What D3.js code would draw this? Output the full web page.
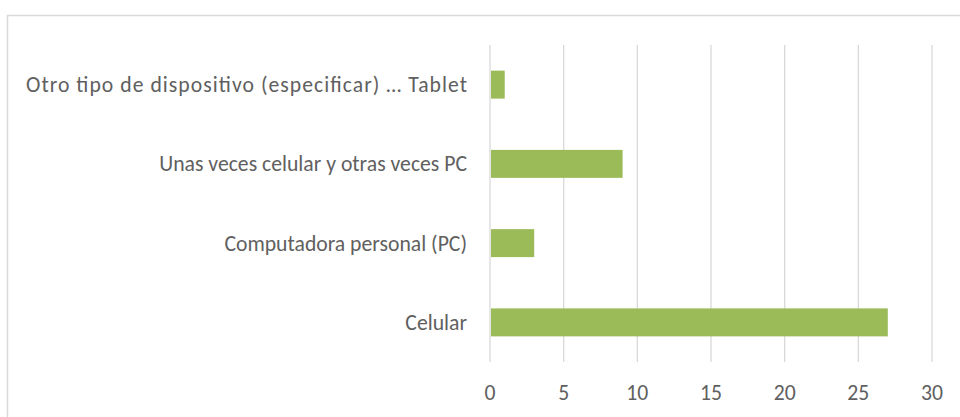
<!DOCTYPE html>
<html>
<head>
<meta charset="utf-8">
<script src="https://d3js.org/d3.v7.min.js"></script>
<style>
  body { margin: 0; background: #fff; }
  text { font-family: Calibri, Carlito, sans-serif; fill: #606060; }
</style>
</head>
<body>
<svg width="960" height="417"></svg>
<script>
// data
var categories = ["Otro tipo de dispositivo (especificar) \u2026 Tablet",
                  "Unas veces celular y otras veces PC",
                  "Computadora personal (PC)",
                  "Celular"];
var values = [1, 9, 3, 27];
var xTicks = [0, 5, 10, 15, 20, 25, 30];

var svg = d3.select("svg");
var plot = {left: 490, right: 932, top: 45, bottom: 362};

// chart frame
svg.append("rect")
    .attr("x", 7.5).attr("y", 15.5)
    .attr("width", 960).attr("height", 420)
    .attr("fill", "none")
    .attr("stroke", "#d9d9d9")
    .attr("stroke-width", 1.5);

var x = d3.scaleLinear().domain([0, 30]).range([plot.left, plot.right]);
var y = d3.scaleBand().domain(categories).range([plot.top, plot.bottom])
    .paddingInner(0.647).paddingOuter(0.3235);

// gridlines
svg.append("g").selectAll("line")
  .data(xTicks)
  .enter().append("line")
    .attr("x1", x).attr("x2", x)
    .attr("y1", plot.top).attr("y2", plot.bottom)
    .attr("stroke", "#d9d9d9")
    .attr("stroke-width", 1.3);

// bars
svg.append("g").selectAll("rect")
  .data(values)
  .enter().append("rect")
    .attr("x", x(0) + 1)
    .attr("y", function(d, i) { return y(categories[i]); })
    .attr("width", function(d) { return x(d) - x(0) - 1; })
    .attr("height", y.bandwidth())
    .attr("fill", "#9bbb59");

// category labels
var labels = svg.append("g").selectAll("text")
  .data(categories)
  .enter().append("text")
    .attr("x", 467)
    .attr("y", function(d) { return y(d) + y.bandwidth() / 2; })
    .attr("dy", "0.35em")
    .attr("text-anchor", "end")
    .style("font-size", "21.7px")
    .text(function(d) { return d; });

// the first label is spaced wider in the original
labels.filter(function(d, i) { return i === 0; })
    .attr("textLength", 441)
    .attr("lengthAdjust", "spacing");

// tick labels
svg.append("g").selectAll("text")
  .data(xTicks)
  .enter().append("text")
    .attr("x", x)
    .attr("y", 400)
    .attr("text-anchor", "middle")
    .style("font-size", "21.7px")
    .text(function(d) { return d; });
</script>
</body>
</html>
